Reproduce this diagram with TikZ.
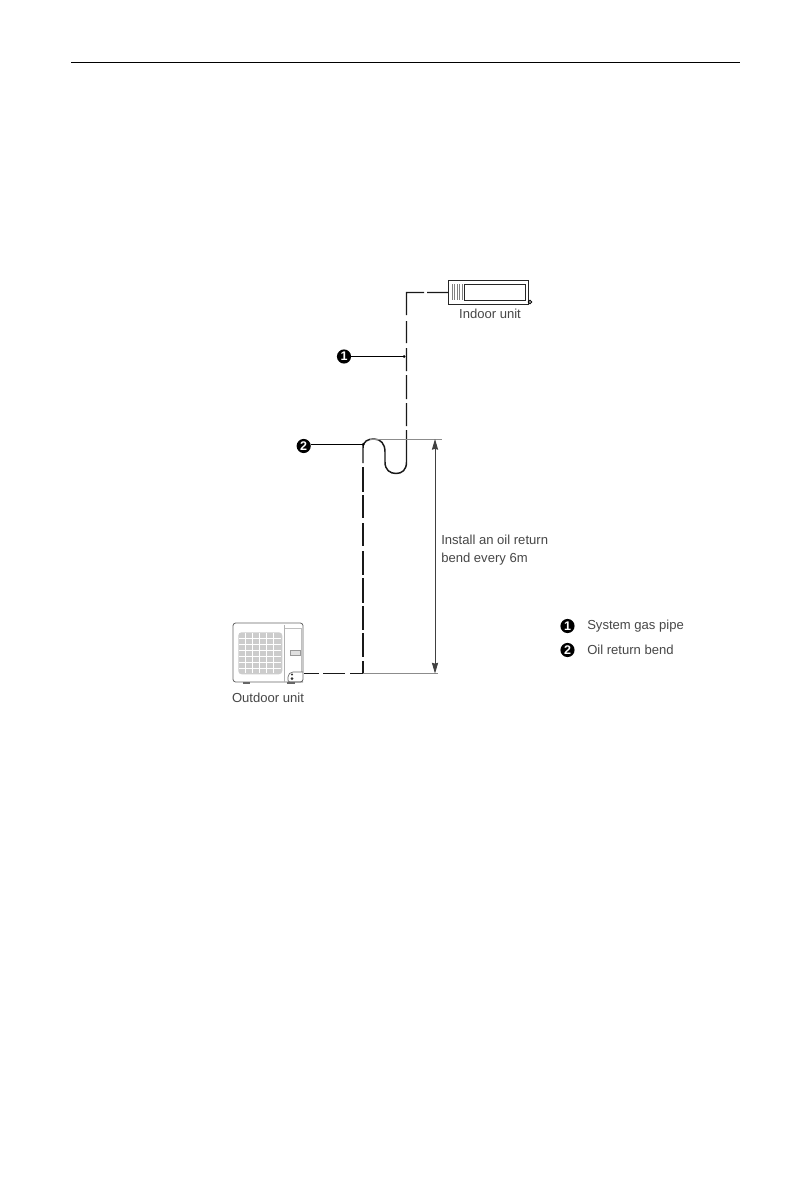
\documentclass[tikz,border=0pt]{standalone}
\usepackage{fontspec}
\setmainfont{Liberation Sans}
\usetikzlibrary{arrows.meta}
\definecolor{txt}{gray}{0.28}
\definecolor{pipec}{gray}{0.1}
\tikzset{
  x=0.75pt,y=-0.75pt,
  lbl/.style={font=\fontsize{9.8pt}{13.5pt}\selectfont,text=txt,inner sep=0pt},
  badge/.style={circle,fill=black,text=white,inner sep=0pt,minimum size=10.6pt,font=\fontsize{9.4pt}{9.4pt}\selectfont\bfseries},
  pipeline/.style={draw=pipec,line width=1.1pt},
  leader/.style={draw=black,line width=0.75pt},
  dimline/.style={draw=black!75,line width=0.65pt},
  extline/.style={draw=black!45,line width=0.6pt},
  unitbody/.style={draw=black!85,line width=0.8pt,fill=white,inner sep=0pt},
  thin gray/.style={draw=black!50,line width=0.4pt},
}
\begin{document}
\begin{tikzpicture}
\useasboundingbox (0,0) rectangle (811,1191);
\fill[white] (0,0) rectangle (811,1191);
% page header rule
\coordinate (ruleL) at (71,62.5);
\coordinate (ruleR) at (740,62.5);
\draw[black,line width=1pt] (ruleL) -- (ruleR);

% indoor unit
\node[unitbody,anchor=north west,minimum width=60pt,minimum height=18pt] (indoor) at (448,280) {};
\node[draw=black!85,line width=0.8pt,inner sep=0pt,anchor=north west,minimum width=46pt,minimum height=12pt] (indoorwin) at (464,284) {};
\foreach \xx in {452,454.5,457,459.5,462}{\draw[thin gray] (\xx,284) -- (\xx,300);}
\node[circle,draw=black,line width=0.6pt,fill=white,inner sep=0pt,minimum size=2.6pt] (indoorknob) at (530,302) {};
\node[lbl] (indoorlbl) at (490,314) {Indoor unit};

% outdoor unit
\draw[black!60,line width=0.6pt,rounded corners=2pt,fill=white] (233,623) rectangle (303,682);
\node[inner sep=0pt,anchor=north west,minimum width=33pt,minimum height=31.5pt,fill=black!20,rounded corners=2.5pt] (outgrill) at (238,632) {};
\foreach \yy in {638,644,650,656,662,668}{\draw[white,line width=0.5pt] (239,\yy) -- (281,\yy);}
\foreach \xx in {245,252,259,266,273}{\draw[white,line width=0.3pt] (\xx,633) -- (\xx,673);}
\draw[black!30,line width=0.5pt] (284,625) -- (284,682);
\draw[black!25,line width=0.4pt] (285,628) -- (301,628) -- (301,672);
\node[draw=black!40,fill=black!12,line width=0.4pt,inner sep=0pt,minimum width=7.5pt,minimum height=3.4pt] (outbadge) at (295.5,652.5) {};
\draw[black!60,line width=0.5pt,rounded corners=1.5pt] (303,672) -- (291,672) -- (288,675) -- (288,682) -- (303,682);
\fill[black!80] (292,674.5) circle (1.1);
\fill[black!80] (292,678.5) circle (1.5);
\draw[black!60,line width=0.9pt] (243,683) -- (250,683);
\draw[black!60,line width=0.9pt] (287,683) -- (295,683);
\coordinate (outport) at (304,673.5);
\node[lbl] (outdoorlbl) at (268,698) {Outdoor unit};

% named pipe points
\coordinate (c1) at (406.5,292.5);
\coordinate (c2) at (363,673.5);
\coordinate (inport) at (448,292.5);

% gas pipe, indoor unit down through the oil return bend
\draw[pipeline,dash pattern=on 15.75pt off 2.25pt on 30pt off 4.5pt on 16.5pt off 3.75pt on 17.25pt off 3pt on 18pt off 3pt on 17.25pt off 3pt on 400pt]
  (inport) -- (c1) -- (406.5,462)
  .. controls (406.5,470) and (402,473.5) .. (396,473.5)
  .. controls (390,473.5) and (385,470) .. (385,462)
  -- (385,452)
  .. controls (385,444) and (381,439) .. (374,439)
  .. controls (368,439) and (363,441) .. (363,448)
  -- (363,463);
% lower riser to outdoor unit
\draw[pipeline,dash pattern=on 18.75pt off 2.25pt on 17.25pt off 3.75pt on 17.25pt off 3.75pt on 18pt off 2.25pt on 18.75pt off 2.25pt on 18pt off 2.25pt on 18pt off 3pt on 19pt off 3.75pt on 16.5pt off 3pt on 12pt]
  (363,467) -- (c2) -- (outport);

% dimension
\coordinate (dimT) at (435,439);
\coordinate (dimB) at (435,673.5);
\draw[extline] (370,439) -- (442,439);
\draw[extline] (c2) -- (438,673.5);
\draw[dimline,{Stealth[length=8pt,width=4.6pt,inset=0.6pt]}-{Stealth[length=8pt,width=4.6pt,inset=0.6pt]}] (dimT) -- (dimB);
\node[lbl,anchor=west,align=left] (dimlbl) at (441,550) {Install an oil return\\bend every 6m};

% leaders
\node[badge] (b1) at (344,356.5) {1};
\coordinate (t1) at (404,356.5);
\draw[leader] (b1) -- (t1);
\fill[black] (t1) circle (1.5);
\node[badge] (b2) at (303.7,446) {2};
\coordinate (t2) at (363,444.5);
\draw[leader] (b2.east |- t2) -- (t2);
\fill[black] (t2) circle (1.5);

% legend
\node[badge] (k1) at (567.5,626) {1};
\node[lbl,anchor=west] (k1lbl) at (587,626) {System gas pipe};
\node[badge] (k2) at (567.5,650) {2};
\node[lbl,anchor=west] (k2lbl) at (587,650) {Oil return bend};
\end{tikzpicture}
\end{document}
